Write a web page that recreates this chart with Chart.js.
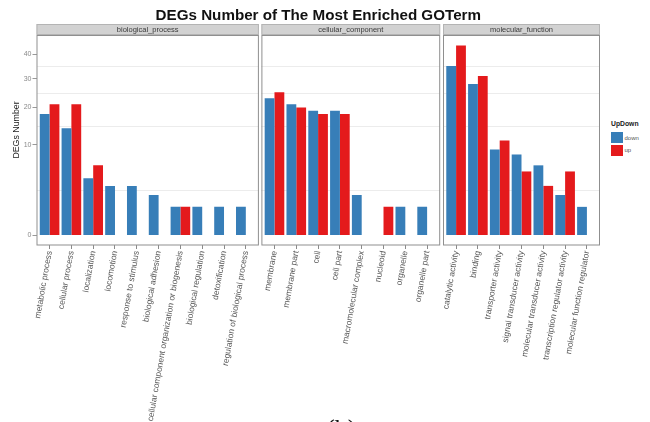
<!DOCTYPE html>
<html><head><meta charset="utf-8">
<script src="https://cdn.jsdelivr.net/npm/chart.js@4/dist/chart.umd.min.js"></script>
<style>
html,body{margin:0;padding:0;background:#fff;width:650px;height:422px;overflow:hidden;font-family:"Liberation Sans",Arial,sans-serif;}
#wrap{position:relative;width:650px;height:422px;}
canvas{position:absolute;top:0;}
#title{position:absolute;left:0;width:636.6px;top:6px;line-height:18px;text-align:center;font-weight:bold;font-size:15.2px;color:#111;white-space:nowrap;}
.lg{position:absolute;white-space:nowrap;color:#333;}
#lgTitle{left:611px;top:120px;font-size:6.8px;font-weight:bold;line-height:8px;color:#222;}
.key{position:absolute;left:611px;width:12.3px;height:11.6px;}
#cap{position:absolute;left:326px;top:416px;font-family:"Liberation Serif","Times New Roman",serif;font-size:26px;line-height:26px;color:#111;}
</style></head>
<body><div id="wrap">
<canvas id="c1" width="262" height="422" style="left:0px"></canvas>
<canvas id="c2" width="186" height="422" style="left:258px"></canvas>
<canvas id="c3" width="163" height="422" style="left:440px"></canvas>
<div id="title">DEGs Number of The Most Enriched GOTerm</div>
<div id="legend"></div>
<div id="cap">(b)</div>
</div>
<script>
// ---- data ----
const facetNames = ['biological_process', 'cellular_component', 'molecular_function'];
const seriesNames = ['down', 'up'];
const seriesColors = ['#377EB8', '#E41A1C'];
const yTicks = [0, 10, 20, 30, 40];

const bpCategories = ['metabolic process', 'cellular process', 'localization', 'locomotion', 'response to stimulus',
  'biological adhesion', 'cellular component organization or biogenesis', 'biological regulation',
  'detoxification', 'regulation of biological process'];
const bpDown = [18, 14, 4, 3, 3, 2, 1, 1, 1, 1];
const bpUp   = [21, 21, 6, null, null, null, 1, null, null, null];

const ccCategories = ['membrane', 'membrane part', 'cell', 'cell part', 'macromolecular complex',
  'nucleoid', 'organelle', 'organelle part'];
const ccDown = [23, 21, 19, 19, 2, null, 1, 1];
const ccUp   = [25, 20, 18, 18, null, 1, null, null];

const mfCategories = ['catalytic activity', 'binding', 'transporter activity', 'signal transducer activity',
  'molecular transducer activity', 'transcription regulator activity', 'molecular function regulator'];
const mfDown = [35, 28, 9, 8, 6, 2, 1];
const mfUp   = [44, 31, 11, 5, 3, 5, null];

// ---- custom scales ----
const sq = v => v < 0 ? -Math.sqrt(-v) : Math.sqrt(v);

class SqrtScale extends Chart.LinearScale {
  buildTicks() {
    const ticks = [];
    for (let i = 0; i < yTicks.length; i++) {
      ticks.push({ value: yTicks[i] });
      if (i < yTicks.length - 1) {
        const m = (sq(yTicks[i]) + sq(yTicks[i + 1])) / 2;
        ticks.push({ value: m * m, minor: true });
      }
    }
    return ticks;
  }
  getPixelForValue(value) {
    const a = sq(this.min), b = sq(this.max);
    return this.getPixelForDecimal((sq(value) - a) / (b - a));
  }
  getValueForPixel(pixel) {
    const a = sq(this.min), b = sq(this.max);
    const t = a + this.getDecimalForPixel(pixel) * (b - a);
    return t < 0 ? -t * t : t * t;
  }
}
SqrtScale.id = 'sqrt';
SqrtScale.defaults = Chart.LinearScale.defaults;

class PaddedCategoryScale extends Chart.CategoryScale {
  configure() {
    super.configure();
    const pad = 0.6;
    this._startValue = this.min - pad;
    this._valueRange = (this.max - this.min) + 2 * pad;
  }
}
PaddedCategoryScale.id = 'paddedCategory';
PaddedCategoryScale.defaults = Chart.CategoryScale.defaults;
Chart.register(SqrtScale, PaddedCategoryScale);

// data range in sqrt space, 5% expansion like ggplot
const allVals = [].concat(bpDown, bpUp, ccDown, ccUp, mfDown, mfUp).filter(v => v != null);
const tMax = Math.sqrt(Math.max(...allVals));
const expand = 0.05 * tMax;
const yMin = -(expand * expand);
const yMax = (tMax + expand) * (tMax + expand);

const FONT = '"Liberation Sans", Arial, sans-serif';

const facetPlugin = {
  id: 'facet',
  afterDraw(chart, args, opts) {
    const x = chart.scales.x;
    const n = x.getLabels().length;
    const step = x.getPixelForValue(1) - x.getPixelForValue(0);
    const left = x.getPixelForValue(0) - 0.6 * step;
    const right = x.getPixelForValue(n - 1) + 0.6 * step;
    const top = chart.chartArea.top, bottom = chart.chartArea.bottom;
    const ctx = chart.ctx;
    ctx.save();
    // strip
    ctx.fillStyle = '#d2d2d2';
    ctx.fillRect(left, top - 12, right - left, 10.5);
    ctx.strokeStyle = '#b4b4b4';
    ctx.lineWidth = 1;
    ctx.strokeRect(left + 0.5, top - 11.5, right - left - 1, 10);
    ctx.fillStyle = '#3a3a3a';
    ctx.font = '7.5px ' + FONT;
    ctx.textAlign = 'center';
    ctx.textBaseline = 'middle';
    ctx.fillText(opts.name, (left + right) / 2, top - 6.3);
    // panel border
    ctx.strokeStyle = '#8f8f8f';
    ctx.lineWidth = 1;
    ctx.strokeRect(left + 0.5, top - 0.5, right - left - 1, bottom - top + 0.5);
    // y title
    if (opts.yTitle) {
      ctx.translate(17, 130);
      ctx.rotate(-Math.PI / 2);
      ctx.fillStyle = '#222';
      ctx.font = '8.8px ' + FONT;
      ctx.textAlign = 'center';
      ctx.textBaseline = 'middle';
      ctx.fillText(opts.yTitle, 0, 0);
    }
    ctx.restore();
  }
};

function makeChart(id, labels, down, up, name, showY, pad) {
  return new Chart(document.getElementById(id), {
    type: 'bar',
    data: {
      labels: labels,
      datasets: [
        { label: seriesNames[0], data: down, backgroundColor: seriesColors[0], borderWidth: 0 },
        { label: seriesNames[1], data: up, backgroundColor: seriesColors[1], borderWidth: 0 }
      ]
    },
    options: {
      responsive: false,
      animation: false,
      events: [],
      layout: { padding: pad },
      datasets: { bar: { categoryPercentage: 0.9, barPercentage: 1.0 } },
      plugins: {
        legend: { display: false },
        tooltip: { enabled: false },
        title: { display: false },
        facet: { name: name, yTitle: showY ? 'DEGs Number' : null }
      },
      scales: {
        x: {
          type: 'paddedCategory',
          offset: true,
          grid: { display: true, drawOnChartArea: false, offset: false, tickLength: 4, color: '#8a8a8a', lineWidth: 1 },
          border: { display: false },
          ticks: { autoSkip: false, minRotation: 80, maxRotation: 80, padding: 1, color: '#555', font: { family: FONT, size: 8.5 } },
          afterFit(s) { s.height = 177; s.paddingLeft = 0; s.paddingRight = 0; }
        },
        y: {
          type: 'sqrt',
          min: yMin,
          max: yMax,
          display: true,
          border: { display: false },
          grid: {
            drawOnChartArea: true,
            drawTicks: showY,
            tickLength: showY ? 4 : 0,
            color: c => (c.tick && c.tick.minor) ? '#ececec' : 'rgba(0,0,0,0)',
            tickColor: c => (c.tick && c.tick.minor) ? 'rgba(0,0,0,0)' : '#999',
            lineWidth: 1
          },
          ticks: {
            display: showY,
            padding: 1,
            color: '#8a8a8a',
            font: { family: FONT, size: 7 },
            callback: v => yTicks.includes(v) ? String(v) : ''
          },
          afterFit(s) { s.width = showY ? 36.5 : 0; s.paddingTop = 0; s.paddingBottom = 0; }
        }
      }
    },
    plugins: [facetPlugin]
  });
}

makeChart('c1', bpCategories, bpDown, bpUp, facetNames[0], true, { top: 36, left: 0, right: 3.1, bottom: 0 });
makeChart('c2', ccCategories, ccDown, ccUp, facetNames[1], false, { top: 36, left: 3.4, right: 3.8, bottom: 0 });
makeChart('c3', mfCategories, mfDown, mfUp, facetNames[2], false, { top: 36, left: 3, right: 3, bottom: 0 });

// legend (HTML)
const lg = document.getElementById('legend');
const t = document.createElement('div');
t.className = 'lg'; t.id = 'lgTitle'; t.textContent = 'UpDown';
lg.appendChild(t);
seriesNames.forEach((s, i) => {
  const k = document.createElement('div');
  k.className = 'key';
  k.style.top = (131.7 + i * 12.8) + 'px';
  k.style.background = seriesColors[i];
  lg.appendChild(k);
  const l = document.createElement('div');
  l.className = 'lg';
  l.style.left = '624.5px';
  l.style.top = (133.5 + i * 12.8) + 'px';
  l.style.fontSize = '6px';
  l.style.lineHeight = '8px';
  l.style.color = '#555';
  l.textContent = s;
  lg.appendChild(l);
});
</script>
</body></html>
